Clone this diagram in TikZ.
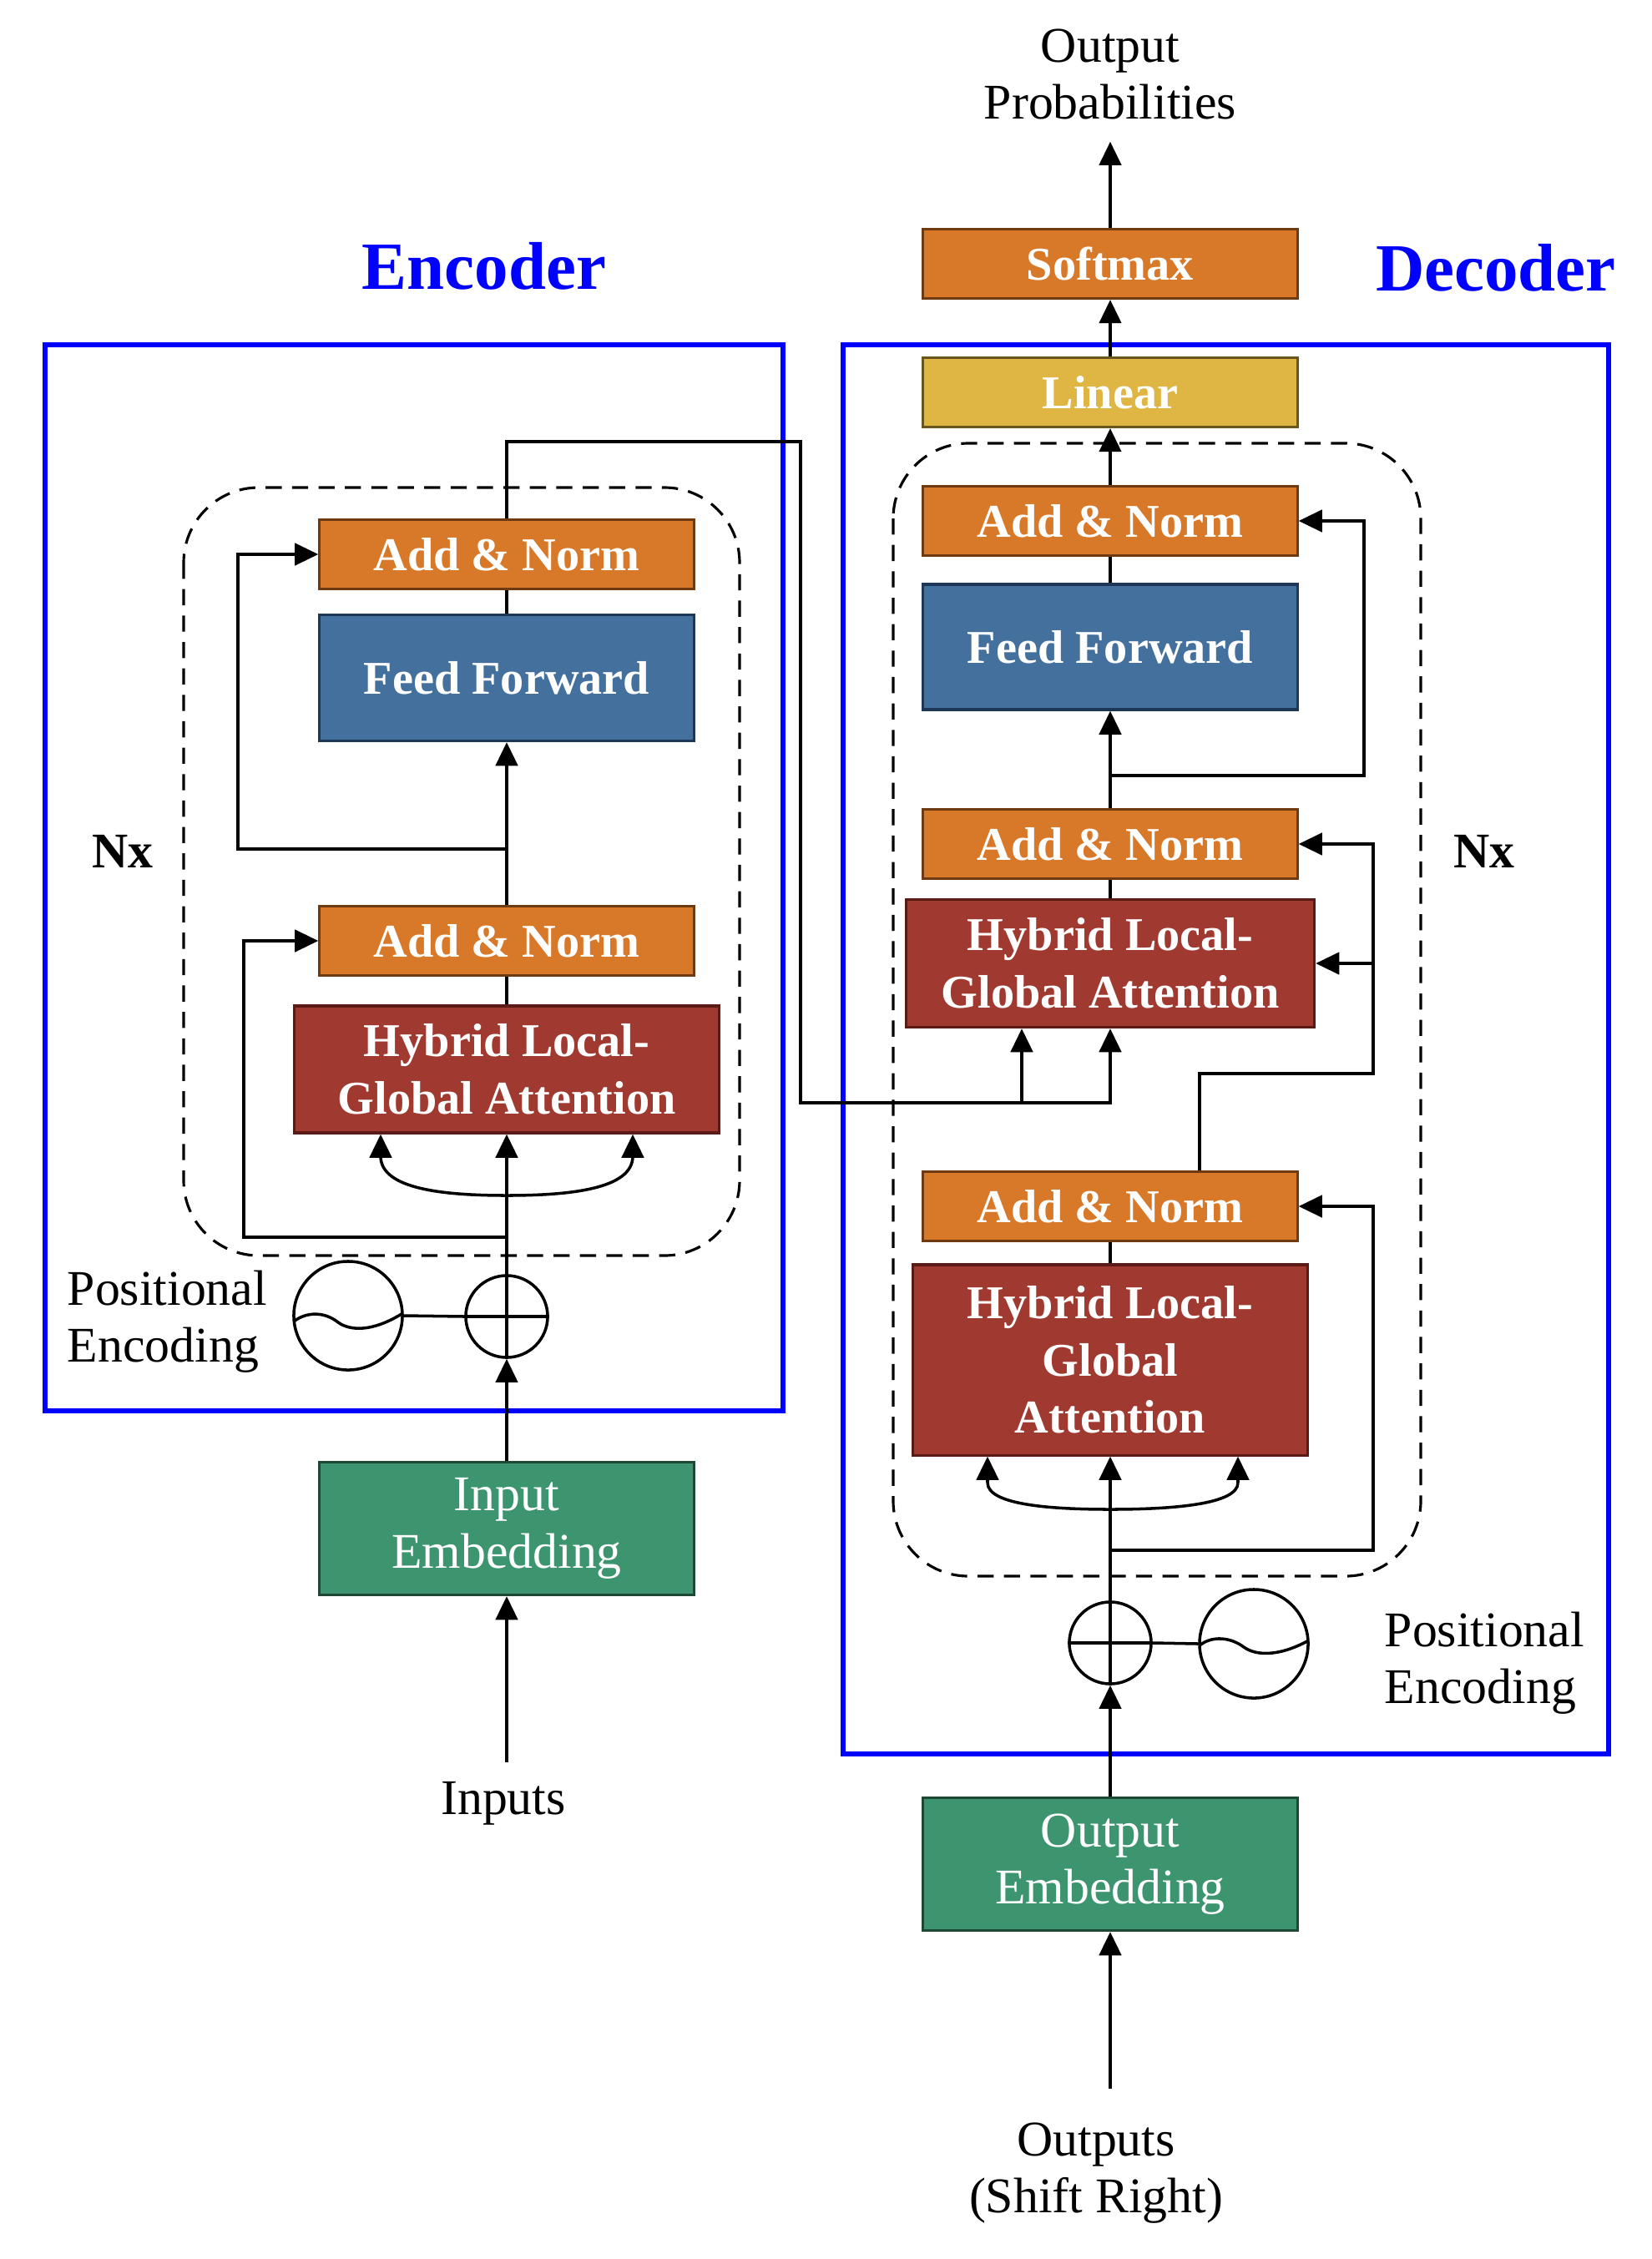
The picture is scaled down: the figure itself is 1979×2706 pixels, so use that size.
\documentclass[tikz,border=0pt]{standalone}
\usepackage{fontspec}
\setmainfont{Liberation Serif}
\usetikzlibrary{arrows.meta}
\definecolor{anfill}{RGB}{216,120,41}
\definecolor{anline}{RGB}{110,58,18}
\definecolor{fffill}{RGB}{68,112,157}
\definecolor{ffline}{RGB}{30,55,88}
\definecolor{hyfill}{RGB}{160,58,49}
\definecolor{hyline}{RGB}{90,26,21}
\definecolor{linfill}{RGB}{223,181,67}
\definecolor{linline}{RGB}{105,85,30}
\definecolor{embfill}{RGB}{61,149,112}
\definecolor{embline}{RGB}{28,72,52}
\newcommand{\blkfont}{\fontsize{16}{19.5}\selectfont\bfseries}
\newcommand{\embfont}{\fontsize{17}{19.5}\selectfont}
\newcommand{\lblfont}{\fontsize{17}{19.5}\selectfont}
\newcommand{\ttlfont}{\fontsize{23}{26}\selectfont\bfseries}

\begin{document}
\begin{tikzpicture}[x=0.01cm,y=-0.01cm,
	>={Triangle[length=8pt,width=7.5pt]},
	line width=1pt,
	blk/.style={draw, line width=0.9pt, inner sep=0pt, align=center, text=white, font=\blkfont},
	addnorm/.style={blk, fill=anfill, draw=anline, minimum width=4.48cm, minimum height=0.83cm},
	feedfwd/.style={blk, fill=fffill, draw=ffline, minimum width=4.48cm, minimum height=1.51cm},
	hybrid/.style={blk, fill=hyfill, draw=hyline},
	linbox/.style={blk, fill=linfill, draw=linline, minimum width=4.49cm, minimum height=0.83cm},
	embbox/.style={blk, fill=embfill, draw=embline, font=\embfont, minimum width=4.48cm, minimum height=1.59cm},
	lbl/.style={inner sep=2pt, align=center, font=\lblfont},
	ttl/.style={inner sep=0pt, text=blue, font=\ttlfont},
	frame/.style={draw=blue, line width=1.7pt},
	nxbox/.style={draw, line width=0.9pt, dash pattern=on 5.5pt off 3.5pt, rounded corners=0.9cm},
	addc/.style={circle, draw, inner sep=0pt, minimum size=0.98cm},
	pec/.style={circle, draw, inner sep=0pt, minimum size=1.3cm}]
	\useasboundingbox (0,0) rectangle (1979,2706);

	% frames
	\draw[frame] (54,413) rectangle (938,1690);
	\draw[frame] (1010,413) rectangle (1927,2101);
	\draw[nxbox] (220,584) rectangle (886,1504);
	\draw[nxbox] (1070,531) rectangle (1702,1888);
	\node[ttl] (enctitle) at (580,319) {Encoder};
	\node[ttl] (dectitle) at (1792,321) {Decoder};

	% encoder
	\node[addnorm] (encAN2) at (607,664) {Add \& Norm};
	\node[feedfwd] (encFF) at (607,812) {Feed Forward};
	\node[addnorm] (encAN1) at (607,1127) {Add \& Norm};
	\node[hybrid, minimum width=5.08cm, minimum height=1.52cm] (encHy) at (607,1281) {Hybrid Local-\\Global Attention};
	\node[addc] (encadd) at (607,1577) {};
	\node[pec] (encpe) at (417,1576) {};
	\node[lbl, anchor=west, align=left] (encpetext) at (72,1583) {Positional\\Encoding};
	\node[lbl, font=\lblfont\bfseries] (encnx) at (147,1020) {Nx};
	\node[embbox] (encemb) at (607,1831) {Input\\Embedding};
	\node[lbl] (inputs) at (603,2160) {Inputs};

	\draw[->, shorten <=4pt] (inputs.north -| encemb.south) -- (encemb.south);
	\draw[->] (encemb.north) -- (encadd.south);
	\draw (encadd.south) -- (encadd.north);
	\draw (encadd.west) -- (encadd.east);
	\draw (encpe.east) -- (encadd.west);
	\draw[shift={(encpe.center)}] (-65,7) .. controls (-50,-5) and (-28,-5) .. (-12,8) .. controls (2,18) and (28,20) .. (64,-2);
	\draw[->] (encadd.north) -- (encHy.south);
	\coordinate (encL) at (456,1385);
	\coordinate (encR) at (758,1385);
	\coordinate (encB) at (607,1432);
	\draw[->] (encL) -- (encL |- encHy.south);
	\draw[->] (encR) -- (encR |- encHy.south);
	\draw (encL) .. controls (456,1424) and (530,1432) .. (encB) .. controls (684,1432) and (758,1424) .. (encR);
	\coordinate (er1) at (292,1482);
	\draw[->] (er1 -| encHy.south) -- (er1) |- (encAN1.west);
	\draw (encHy.north) -- (encAN1.south);
	\draw[->] (encAN1.north) -- (encFF.south);
	\coordinate (er2) at (285,1017);
	\draw[->] (er2 -| encFF.south) -- (er2) |- (encAN2.west);
	\draw (encFF.north) -- (encAN2.south);

	% decoder
	\node[lbl] (outprob) at (1330,89) {Output\\Probabilities};
	\node[addnorm] (soft) at (1330,316) {Softmax};
	\node[linbox] (lin) at (1330,470) {Linear};
	\node[addnorm] (decAN3) at (1330,624) {Add \& Norm};
	\node[feedfwd, minimum height=1.5cm] (decFF) at (1330,775) {Feed Forward};
	\node[addnorm] (decAN2) at (1330,1011) {Add \& Norm};
	\node[hybrid, minimum width=4.89cm, minimum height=1.53cm] (decHy1) at (1330,1154) {Hybrid Local-\\Global Attention};
	\node[addnorm] (decAN1) at (1330,1445) {Add \& Norm};
	\node[hybrid, minimum width=4.73cm, minimum height=2.28cm] (decHy2) at (1330,1629) {Hybrid Local-\\Global\\Attention};
	\node[addc] (decadd) at (1330,1968) {};
	\node[pec] (decpe) at (1502,1969) {};
	\node[lbl, anchor=west, align=left] (decpetext) at (1650,1992) {Positional\\Encoding};
	\node[lbl, font=\lblfont\bfseries] (decnx) at (1778,1020) {Nx};
	\node[embbox] (decemb) at (1330,2233) {Output\\Embedding};
	\node[lbl] (outputs) at (1313,2603) {Outputs\\(Shift Right)};

	\draw[->, shorten <=9pt] (outputs.north -| decemb.south) -- (decemb.south);
	\draw[->] (decemb.north) -- (decadd.south);
	\draw (decadd.south) -- (decadd.north);
	\draw (decadd.west) -- (decadd.east);
	\draw (decadd.east) -- (decpe.west);
	\draw[shift={(decpe.center)}] (-65,2) .. controls (-50,-10) and (-28,-8) .. (-12,4) .. controls (2,14) and (28,16) .. (64,-3);
	\draw[->] (decadd.north) -- (decHy2.south);
	\coordinate (decL) at (1183,1776);
	\coordinate (decR) at (1483,1776);
	\coordinate (decB) at (1330,1808);
	\draw[->] (decL) -- (decL |- decHy2.south);
	\draw[->] (decR) -- (decR |- decHy2.south);
	\draw (decL) .. controls (1183,1802) and (1255,1808) .. (decB) .. controls (1405,1808) and (1483,1802) .. (decR);
	\coordinate (dr1) at (1645,1857);
	\draw[->] (dr1 -| decHy2.south) -- (dr1) |- (decAN1.east);
	\draw (decHy2.north) -- (decAN1.south);
	\coordinate (dk) at (1437,1286);
	\coordinate (dr2) at (1645,1286);
	\draw[->] (dk |- decAN1.north) -- (dk) -- (dr2) |- (decAN2.east);
	\draw[->] (dr2 |- decHy1.east) -- (decHy1.east);
	\draw (decHy1.north) -- (decAN2.south);
	\draw[->] (decAN2.north) -- (decFF.south);
	\coordinate (dr3) at (1634,929);
	\draw[->] (dr3 -| decFF.south) -- (dr3) |- (decAN3.east);
	\draw (decFF.north) -- (decAN3.south);
	\draw[->] (decAN3.north) -- (lin.south);
	\draw[->] (lin.north) -- (soft.south);
	\draw[->, shorten >=5pt] (soft.north) -- (outprob.south);

	% encoder to decoder
	\coordinate (cr1) at (959,529);
	\coordinate (cr2) at (959,1321);
	\coordinate (dq) at (1224,1321);
	\draw[->] (encAN2.north) |- (cr1) -- (cr2) -| (decHy1.south);
	\draw[->] (dq) -- (dq |- decHy1.south);
\end{tikzpicture}
\end{document}
